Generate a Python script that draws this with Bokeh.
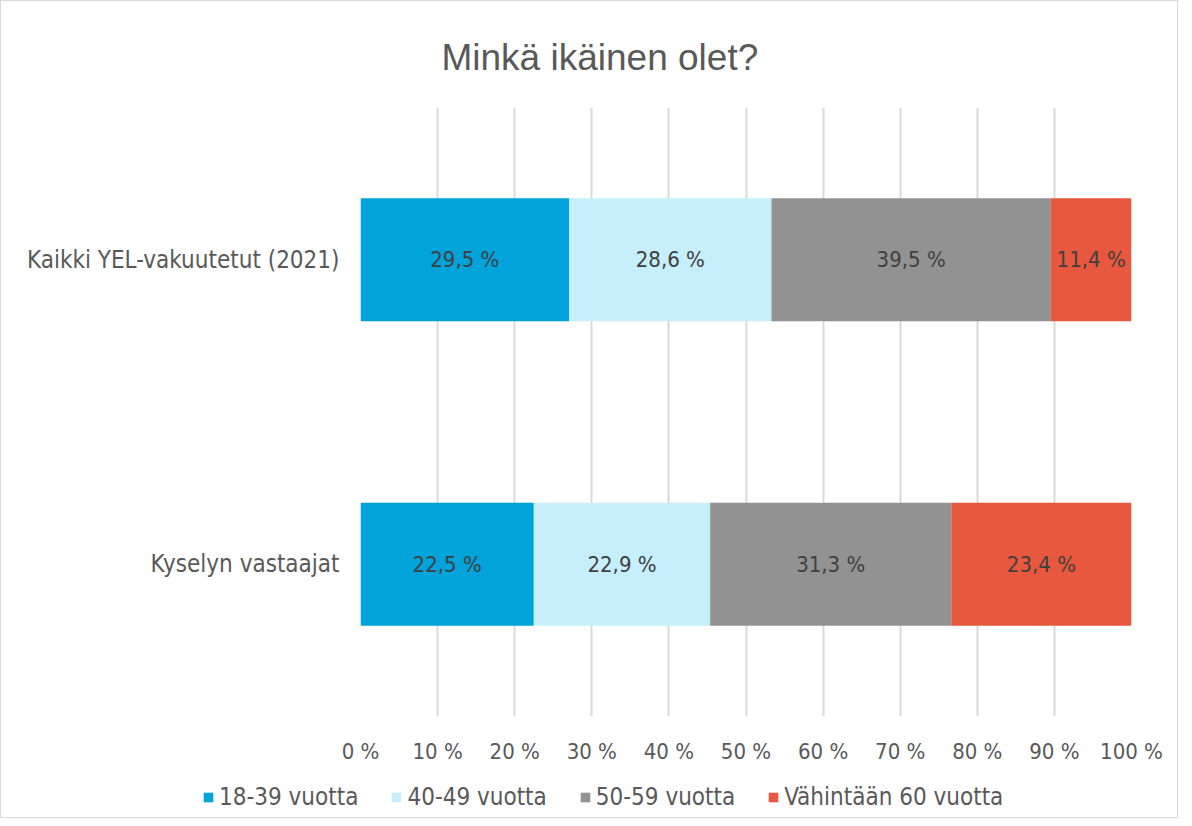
from bokeh.plotting import figure
from bokeh.layouts import column, row
from bokeh.models import FactorRange, FixedTicker, Legend, LegendItem, ColumnDataSource
from bokeh.core.properties import value
from bokeh.embed import file_html
from bokeh.resources import INLINE

categories = ["Kyselyn vastaajat", "Kaikki YEL-vakuutetut (2021)"]
series = ["18-39 vuotta", "40-49 vuotta", "50-59 vuotta", "Vähintään 60 vuotta"]
values_kysely = [22.5, 22.9, 31.3, 23.4]
values_kaikki = [29.5, 28.6, 39.5, 11.4]
colors = ["#00A3DA", "#C6EEFB", "#929292", "#E8583E"]
tick_values = [0, 10, 20, 30, 40, 50, 60, 70, 80, 90, 100]
tick_labels = ["%d %%" % t for t in tick_values]

FONT = "DejaVu Sans Condensed"
FS = "22px"
FS_CAT = "24px"
W = 1176
H1 = 770
H2 = 46

p = figure(width=W, height=H1, y_range=FactorRange(*categories, range_padding=0),
           x_range=(0, 100), output_backend="svg", toolbar_location=None,
           min_border_left=359, min_border_right=W - 1130, min_border_top=106,
           min_border_bottom=H1 - 715)
p.outline_line_color = None
p.background_fill_color = "white"

p.title.text = "Minkä ikäinen olet?"
p.title.align = "left"
p.title.offset = 81
p.title.text_font = "Liberation Sans"
p.title.text_font_size = "37px"
p.title.text_font_style = "normal"
p.title.text_color = "#595959"
p.title.standoff = 60

rows = [values_kysely, values_kaikki]
sources = []
for si, name in enumerate(series):
    lefts, rights, cats, mids, labels = [], [], [], [], []
    for ci, cat in enumerate(categories):
        vals = rows[ci]
        total = sum(vals)
        start = sum(vals[:si]) / total * 100
        end = sum(vals[:si + 1]) / total * 100
        lefts.append(start)
        rights.append(end)
        cats.append(cat)
        mids.append((start + end) / 2)
        labels.append(("%.1f %%" % vals[si]).replace(".", ","))
    src = ColumnDataSource(dict(left=lefts, right=rights, y=cats, mid=mids, label=labels))
    sources.append(src)
    p.hbar(y="y", left="left", right="right", height=0.404, source=src,
           fill_color=colors[si], line_color=None)
    p.text(x="mid", y="y", text="label", source=src, text_align="center",
           text_baseline="middle", text_font=value(FONT), text_font_size=FS,
           text_color="#404040")

p.xgrid.ticker = FixedTicker(ticks=tick_values)
p.xgrid.grid_line_color = "#d9d9d9"
p.xgrid.grid_line_width = 2
p.ygrid.grid_line_color = None

p.xaxis.ticker = FixedTicker(ticks=tick_values)
p.xaxis.major_label_overrides = {t: l for t, l in zip(tick_values, tick_labels)}
p.xaxis.axis_line_color = None
p.xaxis.major_tick_line_color = None
p.xaxis.minor_tick_line_color = None
p.xaxis.major_label_text_font = FONT
p.xaxis.major_label_text_font_size = FS
p.xaxis.major_label_text_color = "#595959"
p.xaxis.major_label_standoff = 16

p.yaxis.axis_line_color = None
p.yaxis.major_tick_line_color = None
p.yaxis.major_label_text_font = FONT
p.yaxis.major_label_text_font_size = FS_CAT
p.yaxis.major_label_text_color = "#595959"
p.yaxis.major_label_standoff = 15

# legend in its own strip below the chart (hidden copies of the bars feed it)
pl = figure(width=W, height=H2, y_range=FactorRange(*categories, range_padding=0),
            x_range=(0, 100), output_backend="svg",
            toolbar_location=None, x_axis_location=None, y_axis_location=None,
            min_border=0)
pl.outline_line_color = None
pl.xgrid.grid_line_color = None
pl.ygrid.grid_line_color = None
leg_renderers = [pl.hbar(y="y", left="left", right="right", height=0.404, source=src,
                         fill_color=c, line_color=None, visible=False)
                 for src, c in zip(sources, colors)]
legend = Legend(items=[LegendItem(label=s, renderers=[r]) for s, r in zip(series, leg_renderers)],
                orientation="horizontal", location=(201, 6),
                glyph_width=12, glyph_height=12, label_standoff=5, spacing=32,
                padding=0, margin=0, border_line_color=None, background_fill_alpha=0,
                label_text_font=FONT, label_text_font_size=FS_CAT, label_text_color="#595959")
pl.add_layout(legend, "center")

layout = column(p, row(pl), spacing=0)
layout.styles = {"border": "1px solid #d9d9d9"}

open("out.html", "w").write(file_html(layout, INLINE))
